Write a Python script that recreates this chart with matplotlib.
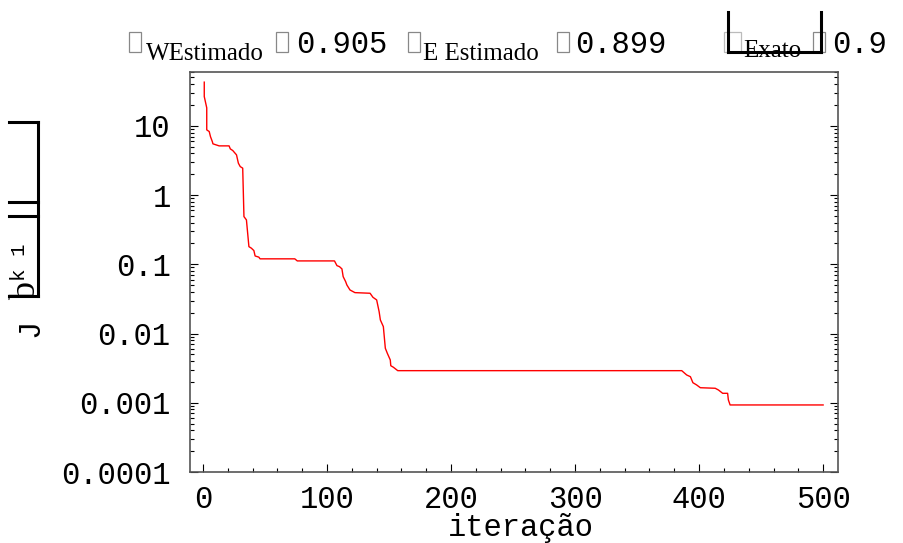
import matplotlib
matplotlib.use("Agg")
import matplotlib.pyplot as plt
from matplotlib.lines import Line2D
from matplotlib.patches import Rectangle
from matplotlib.ticker import LogLocator, FixedLocator, MultipleLocator, NullFormatter

# curve (iteration, J)
iteracao = [1, 1, 3, 3, 5, 6, 7.5, 8, 13, 21, 22, 24, 27, 28.5, 30, 32, 33, 35,
            37, 39, 41, 42, 45, 46, 74, 76, 106, 108, 110, 112, 113, 115, 116,
            118.5, 122.5, 134.7, 137, 140, 142, 143, 145.4, 147, 148.6, 151,
            151.4, 153.5, 157, 386, 390, 393, 395, 398, 401, 413, 415.6, 419,
            423, 423.6, 425, 500]
custo = [42.8, 26.5, 18.2, 8.75, 8.28, 7.0, 5.93, 5.5, 5.14, 5.14, 4.65, 4.4,
         3.81, 2.89, 2.58, 2.45, 0.489, 0.438, 0.180, 0.171, 0.158, 0.132,
         0.127, 0.120, 0.120, 0.112, 0.112, 0.0957, 0.0926, 0.0859, 0.0664,
         0.0562, 0.0503, 0.0426, 0.039, 0.0382, 0.0334, 0.0306, 0.0207, 0.0157,
         0.0126, 0.00613, 0.00519, 0.00415, 0.00343, 0.00326, 0.00291, 0.00291,
         0.00252, 0.00238, 0.00195, 0.00181, 0.00165, 0.00162, 0.00153,
         0.00137, 0.00137, 0.0011, 0.00093, 0.00093]

y_ticks = [10, 1, 0.1, 0.01, 0.001, 0.0001]
y_labels = ["10", "1", "0.1", "0.01", "0.001", "0.0001"]
x_ticks = [0, 100, 200, 300, 400, 500]

W, H = 904, 543
mono = "Liberation Mono"
serif = "Liberation Serif"


def px(x, y):
    # figure pixel -> figure fraction
    return x / W, 1 - y / H


fig = plt.figure(figsize=(W / 100, H / 100), dpi=100)
ax = fig.add_axes([190 / W, 1 - 472 / H, 648 / W, 400 / H])

ax.plot(iteracao, custo, color="red", lw=1.0)
ax.set_yscale("log")
ax.set_xlim(-10.5, 512)
ax.set_ylim(1e-4, 60)

ax.yaxis.set_major_locator(FixedLocator(y_ticks))
ax.set_yticklabels(y_labels)
ax.yaxis.set_minor_locator(LogLocator(base=10, subs=range(2, 10), numticks=20))
ax.yaxis.set_minor_formatter(NullFormatter())
ax.set_xticks(x_ticks)
ax.xaxis.set_minor_locator(MultipleLocator(20))

for lab in ax.get_xticklabels() + ax.get_yticklabels():
    lab.set_fontfamily(mono)
    lab.set_fontsize(22)

ax.tick_params(which="both", direction="in", colors="black", width=0.8,
               top=False, right=True)
ax.tick_params(which="major", length=6)
ax.tick_params(which="minor", length=3)
ax.tick_params(axis="y", pad=14)
ax.tick_params(axis="x", pad=9)
for s in ax.spines.values():
    s.set_color("#555555")
    s.set_linewidth(1.2)

fig.text(*px(521, 536), "iteração", family=mono, fontsize=22,
         ha="center", va="baseline")


# missing-glyph boxes
def box(x, w=12, color="#888888"):
    fig.add_artist(Rectangle(px(x, 52), w / W, 20 / H, fill=False,
                             edgecolor=color, lw=0.9,
                             transform=fig.transFigure))


box(129)
fig.text(*px(146, 60), "WEstimado", family=serif, fontsize=18, va="baseline")
box(276)
fig.text(*px(296, 53), "0.905", family=mono, fontsize=22, va="baseline")
box(408)
fig.text(*px(423, 60), "E Estimado", family=serif, fontsize=18, va="baseline")
box(557)
fig.text(*px(575, 53), "0.899", family=mono, fontsize=22, va="baseline")
box(724, w=17, color="#bbbbbb")
fig.text(*px(743, 57), "Exato", family=serif, fontsize=18, va="baseline")
box(813)
fig.text(*px(832, 53), "0.9", family=mono, fontsize=22, va="baseline")


# bracket artefacts
def seg(x0, y0, x1, y1):
    (a, b), (c, d) = px(x0, y0), px(x1, y1)
    fig.add_artist(Line2D([a, c], [b, d], color="black", lw=2.2,
                          transform=fig.transFigure))


seg(728, 12, 728, 52)
seg(728, 52, 821, 52)
seg(821, 52, 821, 12)

seg(9, 122, 38, 122)
seg(38, 122, 38, 296)
seg(9, 202, 38, 202)
seg(9, 216, 38, 216)
seg(9, 296, 38, 296)

# y label, rotated pieces
fig.text(*px(30, 328), "J", family=mono, fontsize=22, rotation=90,
         ha="center", va="center")
fig.text(*px(27, 291), "b", family=serif, fontsize=26, rotation=90,
         ha="center", va="center")
fig.text(*px(20, 262), "k 1", family=mono, fontsize=15, rotation=90,
         ha="center", va="center")

fig.savefig("out.png", dpi=100, facecolor="white")
